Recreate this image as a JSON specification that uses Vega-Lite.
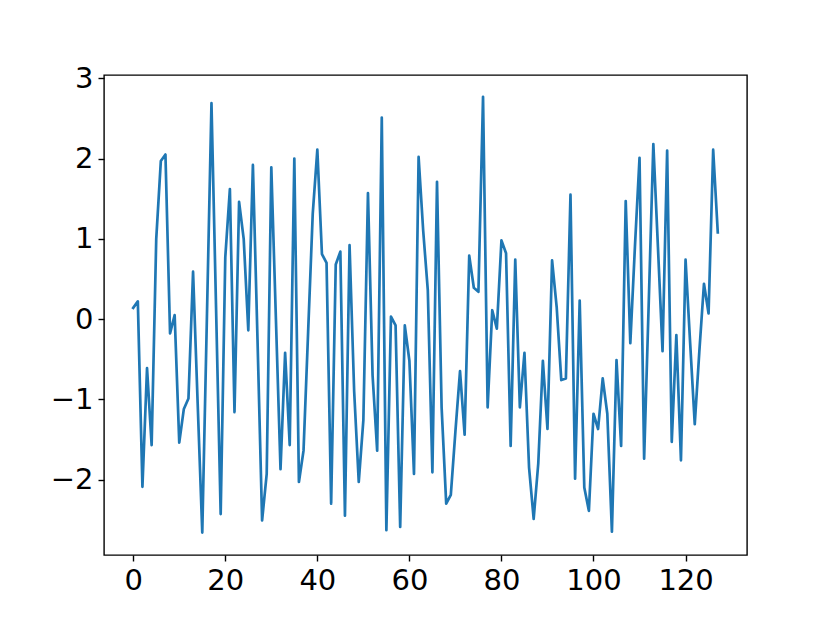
{
 "$schema": "https://vega.github.io/schema/vega-lite/v6.json",
 "width": 643, "height": 480,
 "autosize": {"type": "none"},
 "padding": {"left": 104, "top": 75, "right": 83, "bottom": 68},
 "background": "white",
 "config": {
  "view": {"stroke": "black", "strokeWidth": 1.4},
  "axis": {"grid": false, "domain": false, "tickColor": "black", "tickWidth": 1.4, "tickSize": 6, "labelFont": "DejaVu Sans", "labelFontSize": 29, "labelColor": "black", "labelPadding": 5}
 },
 "data": {"values": [
  {"x":0,"y":0.14},{"x":1,"y":0.22},{"x":2,"y":-2.09},{"x":3,"y":-0.61},{"x":4,"y":-1.57},{"x":5,"y":1.0},{"x":6,"y":1.97},{"x":7,"y":2.05},{"x":8,"y":-0.18},{"x":9,"y":0.05},
  {"x":10,"y":-1.54},{"x":11,"y":-1.12},{"x":12,"y":-0.99},{"x":13,"y":0.59},{"x":14,"y":-1.05},{"x":15,"y":-2.66},{"x":16,"y":0.0},{"x":17,"y":2.69},{"x":18,"y":0.13},{"x":19,"y":-2.43},
  {"x":20,"y":0.77},{"x":21,"y":1.62},{"x":22,"y":-1.16},{"x":23,"y":1.46},{"x":24,"y":1.0},{"x":25,"y":-0.14},{"x":26,"y":1.92},{"x":27,"y":-0.25},{"x":28,"y":-2.51},{"x":29,"y":-1.93},
  {"x":30,"y":1.89},{"x":31,"y":0.0},{"x":32,"y":-1.87},{"x":33,"y":-0.42},{"x":34,"y":-1.57},{"x":35,"y":2.0},{"x":36,"y":-2.03},{"x":37,"y":-1.64},{"x":38,"y":-0.16},{"x":39,"y":1.31},
  {"x":40,"y":2.11},{"x":41,"y":0.81},{"x":42,"y":0.7},{"x":43,"y":-2.3},{"x":44,"y":0.68},{"x":45,"y":0.84},{"x":46,"y":-2.45},{"x":47,"y":0.92},{"x":48,"y":-0.9},{"x":49,"y":-2.03},
  {"x":50,"y":-1.26},{"x":51,"y":1.57},{"x":52,"y":-0.7},{"x":53,"y":-1.64},{"x":54,"y":2.51},{"x":55,"y":-2.63},{"x":56,"y":0.03},{"x":57,"y":-0.08},{"x":58,"y":-2.59},{"x":59,"y":-0.08},
  {"x":60,"y":-0.52},{"x":61,"y":-1.93},{"x":62,"y":2.02},{"x":63,"y":1.1},{"x":64,"y":0.36},{"x":65,"y":-1.91},{"x":66,"y":1.71},{"x":67,"y":-1.1},{"x":68,"y":-2.3},{"x":69,"y":-2.19},
  {"x":70,"y":-1.4},{"x":71,"y":-0.65},{"x":72,"y":-1.44},{"x":73,"y":0.79},{"x":74,"y":0.39},{"x":75,"y":0.34},{"x":76,"y":2.77},{"x":77,"y":-1.1},{"x":78,"y":0.11},{"x":79,"y":-0.12},
  {"x":80,"y":0.98},{"x":81,"y":0.82},{"x":82,"y":-1.58},{"x":83,"y":0.74},{"x":84,"y":-1.1},{"x":85,"y":-0.42},{"x":86,"y":-1.85},{"x":87,"y":-2.49},{"x":88,"y":-1.8},{"x":89,"y":-0.52},
  {"x":90,"y":-1.37},{"x":91,"y":0.73},{"x":92,"y":0.15},{"x":93,"y":-0.76},{"x":94,"y":-0.74},{"x":95,"y":1.55},{"x":96,"y":-1.99},{"x":97,"y":0.23},{"x":98,"y":-2.1},{"x":99,"y":-2.39},
  {"x":100,"y":-1.18},{"x":101,"y":-1.37},{"x":102,"y":-0.74},{"x":103,"y":-1.18},{"x":104,"y":-2.65},{"x":105,"y":-0.51},{"x":106,"y":-1.58},{"x":107,"y":1.47},{"x":108,"y":-0.3},{"x":109,"y":0.9},
  {"x":110,"y":2.01},{"x":111,"y":-1.74},{"x":112,"y":0.2},{"x":113,"y":2.18},{"x":114,"y":0.9},{"x":115,"y":-0.4},{"x":116,"y":2.1},{"x":117,"y":-1.53},{"x":118,"y":-0.2},{"x":119,"y":-1.76},
  {"x":120,"y":0.74},{"x":121,"y":-0.3},{"x":122,"y":-1.31},{"x":123,"y":-0.4},{"x":124,"y":0.44},{"x":125,"y":0.07},{"x":126,"y":2.11},{"x":127,"y":1.08}
 ]},
 "mark": {"type": "line", "color": "#1f77b4", "strokeWidth": 2.7, "strokeJoin": "round", "strokeCap": "square"},
 "encoding": {
  "x": {"field": "x", "type": "quantitative", "scale": {"domain": [-6.35, 133.35], "nice": false, "zero": false}, "axis": {"values": [0, 20, 40, 60, 80, 100, 120], "title": null}},
  "y": {"field": "y", "type": "quantitative", "scale": {"domain": [-2.94, 3.041], "nice": false, "zero": false}, "axis": {"values": [-2, -1, 0, 1, 2, 3], "title": null}}
 }
}
